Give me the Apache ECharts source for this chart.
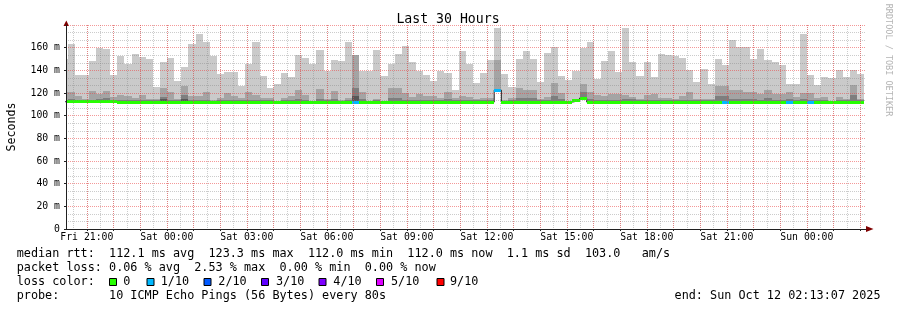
<!DOCTYPE html>
<html><head><meta charset="utf-8">
<script src="https://cdn.jsdelivr.net/npm/echarts@6/dist/echarts.min.js"></script>
<style>html,body{margin:0;padding:0;background:#fff}#c{width:897px;height:310px}</style>
</head><body><div id="c"></div>
<script>
// ---- time frame (hours since Fri 00:00) ----
const axisStartHour = 20 + 13/60 + 7/3600;      // Fri 20:13:07
const axisEndHour = axisStartHour + 30;         // Sun 02:13:07
const firstSlotStartHour = 20 + 0/60 + 37/3600; // partial slot, clipped by the axis
const slotHours = 16/60;                        // 960 s consolidation
const dayNames = ['Fri', 'Sat', 'Sun'];
const yTickLabels = ['0', '20 m', '40 m', '60 m', '80 m', '100 m', '120 m', '140 m', '160 m', '180 m'];

// ---- smoke bands (ms): top of outer band (max), inner bands, smoke bottom ----
const maxRtt = [
150,
163,136,136,148,160,159,136,153,146,154,
152,150,125.5,147.6,151.2,130.6,143.2,162.8,172.5,164.7,
153,137.2,138.3,138.3,126.4,146,164.8,135,124,127.6,
137.3,133.8,153.2,151.2,145.3,158.2,139.7,149.4,148.5,164.7,
null,139.4,139.4,158.2,135.2,145.9,154.1,161.8,147.6,139.4,
135.8,130.8,139.7,137.9,122.3,157.3,145.9,129.1,137.3,148.8,
177.7,137,125.5,150,157.3,150,130,155.6,160.3,135,
131.4,139.4,159.7,165.3,132.6,148.5,157.3,138.2,177.7,147,
135.2,147.6,133.8,154.1,153.2,152.3,151.2,140.7,129.3,141.4,
128.2,150.3,144.4,167.1,160.9,160.9,150.3,158.8,149.4,147,
145,128.2,128.2,171.8,135.9,127.3,134.4,133.5,140,134.4,
140,137];
const band2Top = [
121,
121,117.6,115,122,119.5,122,116.5,118.3,117.6,115.8,
118.6,115,115,124,121,114.5,126.4,117,117,120.5,
114,116,119.6,117.6,115.5,120.5,118,115.2,115.8,113,
115.2,117.6,122.6,118.2,113,123.2,114.6,122,113.5,115.8,
153.2,121,113,114.6,113,124,124,119.6,116.7,118.7,
117.6,117.6,115.2,120.5,115.2,117,116.7,114.6,115.8,115.8,
149.4,113.7,115.2,124,122.6,122.6,114.6,116.7,128.5,119.6,
113,113.7,128.3,121,118.5,117,119.5,119.5,118,116.5,
115,118.4,119.3,116,116,115,117,121,115,115,
115,126.4,126.4,122.3,123,121,121,119.5,123,119,
119,120.5,116.7,120,119.6,115.5,116.7,113,116.5,114.5,
127.5,115];
const band3Top = [
114,
115,114,113.5,113.5,114.6,116,113.5,114,114,113.5,
114,113.5,113.5,116.5,114,113.5,118,113.5,113.5,114,
113,113.5,114,113.5,113.5,114,114,113.5,113.5,113,
113.5,114,115,114,113,115,113.5,114.5,113,113.5,
124.6,114.5,113,113.5,113,116,116,114,113.5,114,
114,114,113.5,115,113.5,114,113.5,113.5,113.5,113.5,
null,113,113.5,116,115.5,115.5,113.5,114,117,114.5,
113,113,121,115,114,113.5,114,114,114.5,115,
113.5,114,114,113.5,113.5,113.5,114,114,113.5,113.5,
113.5,117,117,115,115,114.5,114.5,114,116,114,
114,114.5,113.5,114.5,114,113.5,113.5,113,113.5,113.5,
118,113.5];
const band4Top = [
null,
null,null,null,null,null,null,null,null,null,null,
null,null,null,114.5,null,null,115,null,null,null,
null,null,null,null,null,null,null,null,null,null,
null,null,null,null,null,null,null,null,null,null,
117.6,null,null,null,null,null,null,null,null,null,
null,null,null,null,null,null,null,null,null,null,
null,null,null,null,null,null,null,null,null,null,
null,null,116,null,null,null,null,null,null,null,
null,null,null,null,null,null,null,null,null,null,
null,null,null,null,null,null,null,null,null,null,
null,null,null,null,null,null,null,null,null,null,
null,null];
const smokeBottom = [
111.3,
111.3,111.3,111.3,111.3,111.3,111.3,111.3,111.3,111.3,111.3,
111.3,111.3,111.3,111.3,111.3,111.3,111.3,111.3,111.3,111.3,
111.3,111.3,111.3,111.3,111.3,111.3,111.3,111.3,111.3,111.3,
111.3,111.3,111.3,111.3,111.3,111.3,111.3,111.3,111.3,111.3,
111.2,111.3,111.3,111.3,111.3,111.3,111.3,111.3,111.3,111.3,
111.3,111.3,111.3,111.3,111.3,111.3,111.3,111.3,111.3,111.3,
121,111.3,111.3,111.3,111.3,111.3,111.3,111.3,111.3,111.3,
111.3,112.6,114,111.3,111.3,111.3,111.3,111.3,111.3,111.3,
111.3,111.3,111.3,111.3,111.3,111.3,111.3,111.3,111.3,111.3,
111.3,111.3,111.3,111.3,111.3,111.3,111.3,111.3,111.3,111.3,
111.3,111.3,111.3,111.3,111.3,111.3,111.3,111.3,111.3,111.3,
111.3,111.3];
const medianRtt = [
112.3,
112.3,112.3,112.3,112.3,112.3,112.3,112.3,112,111.7,112,
112,112,112,112,112,112,112,112,112,112,
112,112,112,112,112,112,112,112,112,112,
112,112,112,112,112,112,112,112,112,112,
112,112,112,112,112,112,112,112,112,112,
112,112,112,112,112,112,112,112,112,112,
122.6,112,112,112,112,112,112,112,112,112,
112,113.2,115.5,112,112,112,112,112,112,112,
112,112,112,112,112,112,112,112,112,112,
112,112,112,112,112,112,112,112,112,112,
112,112,112,112,112,112,112,112,112,112,
112,112];
const lossLevel = [
0,
0,0,0,0,0,0,0,0,0,0,
0,0,0,0,0,0,0,0,0,0,
0,0,0,0,0,0,0,0,0,0,
0,0,0,0,0,0,0,0,0,0,
1,0,0,0,0,0,0,0,0,0,
0,0,0,0,0,0,0,0,0,0,
1,0,0,0,0,0,0,0,0,0,
0,0,0,0,0,0,0,0,0,0,
0,0,0,0,0,0,0,0,0,0,
0,0,1,0,0,0,0,0,0,0,
0,1,0,0,1,0,0,0,0,0,
0,0];
const lossLabels = ['0', '1/10', '2/10', '3/10', '4/10', '5/10', '9/10'];
const lossColors = ['#26ff00', '#00b8ff', '#0059ff', '#5e00ff', '#7e00ff', '#dd00ff', '#ff0000'];
const smokeColors = ['#cacaca', '#a4a4a4', '#7e7e7e', '#585858'];

// ---- build library data ----
const slotCount = maxRtt.length;
const slotStart = i => firstSlotStartHour + i * slotHours;
const smokeData = [], medianBand = [], medianLine = [];
for (let i = 0; i < slotCount; i++) {
  const lo = smokeBottom[i];
  const f = v => (v == null ? lo : v);
  smokeData.push([slotStart(i), slotStart(i + 1), lo, f(maxRtt[i]), f(band2Top[i]), f(band3Top[i]), f(band4Top[i])]);
  medianBand.push([slotStart(i), slotStart(i + 1), medianRtt[i], lossLevel[i]]);
  medianLine.push([slotStart(i), medianRtt[i]]);
}
medianLine.push([slotStart(slotCount), medianRtt[slotCount - 1]]);

const MONO = '"DejaVu Sans Mono", monospace';
const medianHalf = 1.3;

function renderSmoke(params, api) {
  const t0 = Math.max(api.value(0), axisStartHour);
  const t1 = Math.min(api.value(1), axisEndHour);
  const lo = api.value(2);
  const children = [];
  for (let k = 0; k < smokeColors.length; k++) {
    const top = api.value(3 + k);
    if (!(top > lo)) continue;
    const p0 = api.coord([t0, top]);
    const p1 = api.coord([t1, lo]);
    const x0 = Math.round(p0[0]), x1 = Math.round(p1[0]);
    const y0 = Math.round(p0[1]), y1 = Math.round(p1[1]);
    children.push({ type: 'rect', shape: { x: x0, y: y0, width: x1 - x0, height: y1 - y0 }, style: { fill: smokeColors[k] } });
  }
  return { type: 'group', children };
}
function renderMedian(params, api) {
  const t0 = Math.max(api.value(0), axisStartHour);
  const t1 = Math.min(api.value(1), axisEndHour);
  const med = api.value(2);
  const a = api.coord([t0, med + medianHalf]);
  const b = api.coord([t1, med - medianHalf]);
  const x0 = Math.round(a[0]), x1 = Math.round(b[0]);
  const y0 = Math.round(a[1]), y1 = Math.round(b[1]);
  return { type: 'rect', shape: { x: x0, y: y0, width: x1 - x0, height: y1 - y0 }, style: { fill: lossColors[api.value(3)] } };
}

const MGRID = 'rgba(235,70,70,0.55)';
const GRID = 'rgba(128,128,128,0.40)';

const graphics = [
  { type: 'text', style: { text: 'Last 30 Hours', x: 448, y: 19.5, font: '13.2px ' + MONO, fill: '#000', align: 'center', verticalAlign: 'middle' } },
  { type: 'text', rotation: Math.PI / 2, x: 11.5, y: 127, style: { text: 'Seconds', x: 0, y: 0, font: '11.6px ' + MONO, fill: '#000', align: 'center', verticalAlign: 'middle' } },
  { type: 'text', rotation: -Math.PI / 2, x: 888.5, y: 60, style: { text: 'RRDTOOL / TOBI OETIKER', x: 0, y: 0, font: '8.5px ' + MONO, fill: '#b4b4b4', align: 'center', verticalAlign: 'middle' } },
  { type: 'polygon', shape: { points: [[63.5, 26], [69, 26], [66.3, 20.5]] }, style: { fill: '#800000' } },
  { type: 'polygon', shape: { points: [[866, 226], [866, 232], [873.5, 229]] }, style: { fill: '#800000' } },
  { type: 'text', style: { text: 'median rtt:  112.1 ms avg  123.3 ms max  112.0 ms min  112.0 ms now  1.1 ms sd  103.0   am/s', x: 16.7, y: 254.3, font: '11.8px ' + MONO, fill: '#000', verticalAlign: 'middle' } },
  { type: 'text', style: { text: 'packet loss: 0.06 % avg  2.53 % max  0.00 % min  0.00 % now', x: 16.7, y: 268.3, font: '11.8px ' + MONO, fill: '#000', verticalAlign: 'middle' } },
  { type: 'text', style: { text: 'loss color:', x: 16.7, y: 282.3, font: '11.8px ' + MONO, fill: '#000', verticalAlign: 'middle' } },
  { type: 'text', style: { text: 'probe:       10 ICMP Echo Pings (56 Bytes) every 80s', x: 16.7, y: 296.3, font: '11.8px ' + MONO, fill: '#000', verticalAlign: 'middle' } },
  { type: 'text', style: { text: 'end: Sun Oct 12 02:13:07 2025', x: 880.5, y: 296.3, font: '11.8px ' + MONO, fill: '#000', align: 'right', verticalAlign: 'middle' } }
];
const boxX = [109, 146.5, 203.5, 261, 318.5, 376, 436.5];
const labX = [123.3, 160.7, 218.3, 276, 333.3, 391, 450];
for (let i = 0; i < lossLabels.length; i++) {
  graphics.push({ type: 'rect', shape: { x: boxX[i] + 0.5, y: 278.5, width: 7, height: 7 }, style: { fill: lossColors[i], stroke: '#000', lineWidth: 1 } });
  graphics.push({ type: 'text', style: { text: lossLabels[i], x: labX[i], y: 282.3, font: '11.8px ' + MONO, fill: '#000', verticalAlign: 'middle' } });
}

const chart = echarts.init(document.getElementById('c'), null, { renderer: 'canvas' });
chart.setOption({
  animation: false,
  backgroundColor: '#fff',
  grid: { left: 66, right: 31, top: 25, bottom: 81, containLabel: false },
  xAxis: [{
    type: 'value', min: axisStartHour, max: axisEndHour, splitNumber: 30, minInterval: 1, maxInterval: 1, z: 6,
    axisLine: { show: true, lineStyle: { color: '#202020', width: 1 } },
    axisTick: { show: true, length: 2, lineStyle: { color: '#202020' } },
    axisLabel: {
      show: true, margin: 3, color: '#000', fontFamily: MONO, fontSize: 9.8, showMinLabel: false, showMaxLabel: false,
      formatter: v => {
        const h = Math.round(v);
        if (Math.abs(v - h) > 1e-6 || h % 3 !== 0) return '';
        return dayNames[Math.floor(h / 24)] + ' ' + String(h % 24).padStart(2, '0') + ':00';
      }
    },
    splitLine: { show: true, showMinLine: false, showMaxLine: false, lineStyle: { color: MGRID, type: 'dotted', width: 1 } }
  }, {
    type: 'value', min: axisStartHour, max: axisEndHour, splitNumber: 60, minInterval: 0.5, maxInterval: 0.5, z: 5,
    axisLine: { show: false }, axisTick: { show: false }, axisLabel: { show: false },
    splitLine: { show: true, showMinLine: false, showMaxLine: false, lineStyle: { color: GRID, type: 'dotted', width: 1 } }
  }],
  yAxis: {
    type: 'value', min: 0, max: 180, interval: 20, z: 6,
    axisLine: { show: true, lineStyle: { color: '#202020', width: 1 } },
    axisTick: { show: true, length: 2, lineStyle: { color: '#202020' } },
    axisLabel: { margin: 6, color: '#000', fontFamily: MONO, fontSize: 9.8, showMaxLabel: false,
      formatter: v => yTickLabels[Math.round(v / 20)] },
    splitLine: { show: true, showMinLine: false, lineStyle: { color: MGRID, type: 'dotted', width: 1 } },
    minorTick: { show: false, splitNumber: 3 },
    minorSplitLine: { show: true, lineStyle: { color: GRID, type: 'dotted', width: 1 } }
  },
  series: [
    { type: 'custom', name: 'smoke', xAxisIndex: 0, renderItem: renderSmoke, data: smokeData, clip: true, z: 2, silent: true, encode: { x: [0, 1], y: [2, 3] } },
    { type: 'line', name: 'median', xAxisIndex: 0, data: medianLine, step: 'end', symbol: 'none', lineStyle: { color: '#202020', width: 1 }, z: 3, silent: true },
    { type: 'custom', name: 'loss', xAxisIndex: 0, renderItem: renderMedian, data: medianBand, clip: true, z: 4, silent: true, encode: { x: [0, 1], y: 2 } }
  ],
  graphic: graphics
});
</script>
</body></html>
